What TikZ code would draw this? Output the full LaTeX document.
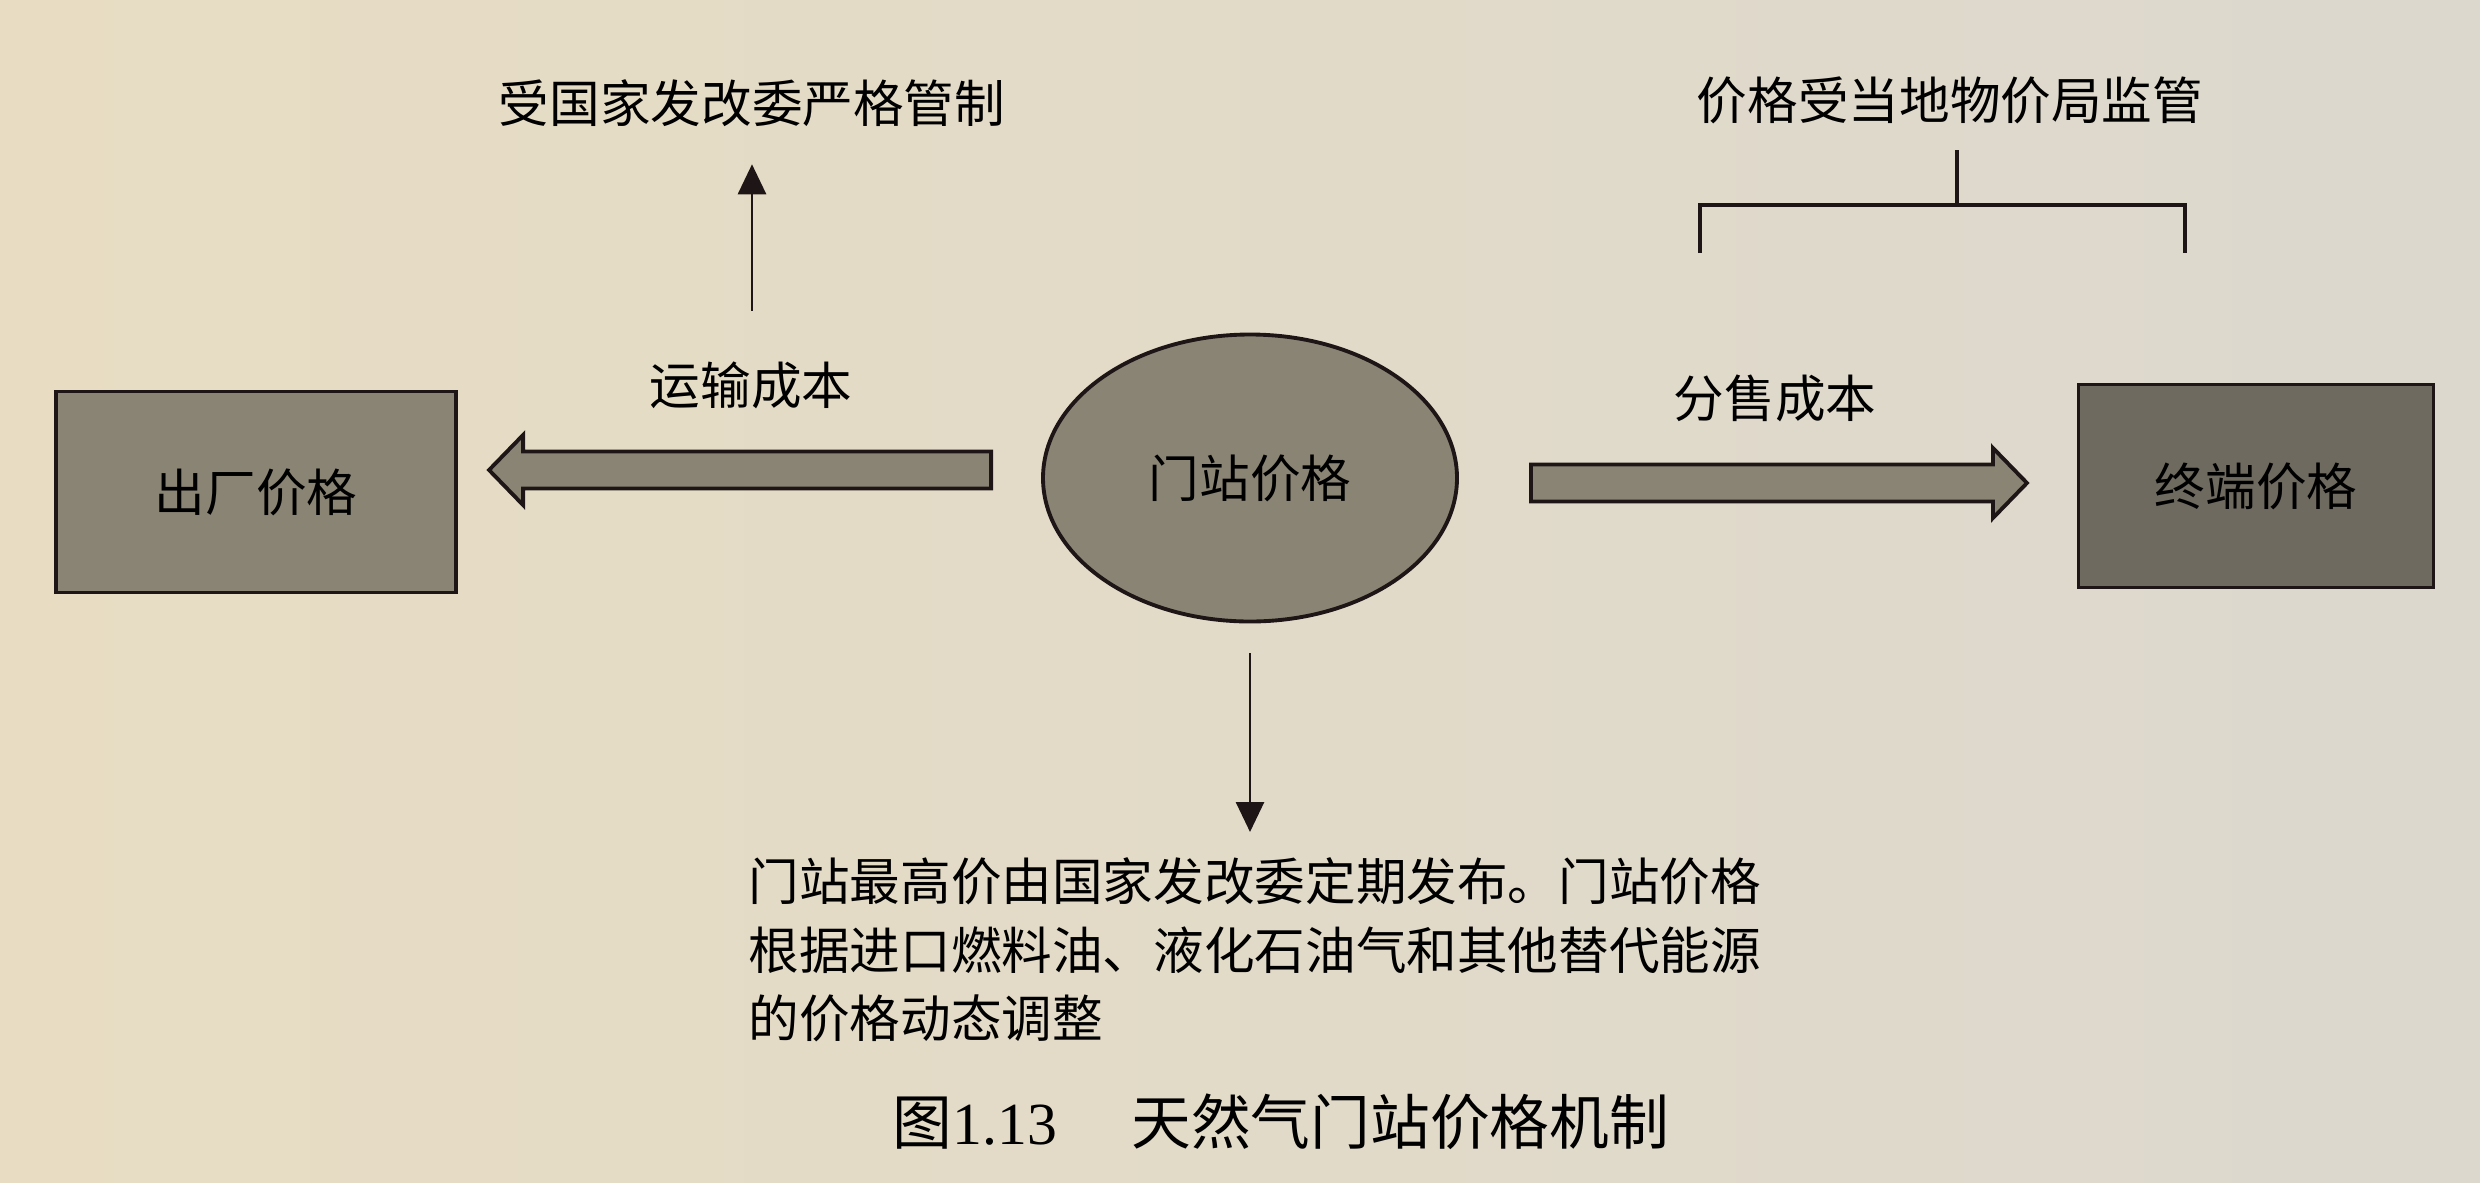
\documentclass[tikz,border=0pt]{standalone}
\usepackage{fontspec}
\setmainfont{Liberation Serif}
\newfontfamily\cjk{Noto Sans CJK SC}
\usetikzlibrary{
   arrows.meta,
   positioning,
   shapes.geometric
}

\definecolor{paperL}{RGB}{232,221,195}
\definecolor{paperR}{RGB}{220,216,206}
\definecolor{boxgray}{RGB}{138,132,116}
\definecolor{boxdark}{RGB}{110,106,96}
\definecolor{ink}{RGB}{30,22,22}

\begin{document}
\begin{tikzpicture}[
    font=\cjk\fontsize{14.4}{19.5}\selectfont,
    box/.style={rectangle, draw=ink, line width=1.1pt, inner sep=0pt},
    fatarrow/.style={draw=ink, line width=1.1pt, fill=boxgray, line join=miter},
    txt/.style={inner sep=0pt},
    arrow/.style={-{Triangle[width=2.8mm, length=3mm]}, line width=0.8pt, draw=ink},
    bracket/.style={line width=0.9pt, draw=ink}
]

\fill[left color=paperL, right color=paperR] (0,0) rectangle (24.8,11.82);
\useasboundingbox (0,0) rectangle (24.8,11.82);

\node[box, fill=boxgray, minimum width=4.00cm, minimum height=2.01cm] (factory) at (2.56,6.90) {出厂价格};
\node[ellipse, draw=ink, line width=1.1pt, fill=boxgray, minimum width=4.14cm, minimum height=2.87cm, inner sep=0pt] (gate) at (12.50,7.04) {门站价格};
\node[box, fill=boxdark, minimum width=3.55cm, minimum height=2.03cm] (terminal) at (22.56,6.96) {终端价格};

\node[txt] (trans) at (7.51,7.97) {运输成本};
\node[txt] (dist) at (17.75,7.84) {分售成本};
\node[txt] (ctrl) at (7.52,10.79) {受国家发改委严格管制};
\node[txt] (reg) at (19.50,10.82) {价格受当地物价局监管};

\node[txt, align=left, anchor=north west] (note) at (7.48,3.25) {门站最高价由国家发改委定期发布。门站价格\\根据进口燃料油、液化石油气和其他替代能源\\的价格动态调整};

\node[txt, font=\cjk\fontsize{17}{20}\selectfont] (caption) at (12.81,0.60) {图{\rmfamily 1.13}\hspace{1.24em}天然气门站价格机制};

% fat arrows between the prices
\coordinate (transtail) at ([xshift=-5mm]gate.west |- 0,7.12);
\coordinate (disttail) at ([xshift=7.2mm]gate.east |- 0,6.99);
\draw[fatarrow] (transtail) ++(0,0.185) -- ++(-4.68,0) -- ++(0,0.165) -- ++(-0.34,-0.35)
    -- ++(0.34,-0.35) -- ++(0,0.165) -- ++(4.68,0) -- cycle;
\draw[fatarrow] (disttail) ++(0,0.185) -- ++(4.62,0) -- ++(0,0.165) -- ++(0.34,-0.35)
    -- ++(-0.34,-0.35) -- ++(0,0.165) -- ++(-4.62,0) -- cycle;

% arrows to the texts
\draw[arrow, shorten <=5mm, shorten >=3.7mm] (trans.north -| ctrl.south) -- (ctrl.south);
\draw[arrow, shorten <=3mm, shorten >=2.5mm] (gate.south) -- (gate.south |- note.north);

% bracket over the terminal price
\coordinate (bl) at (17.00,9.29);
\coordinate (br) at (21.85,9.29);
\coordinate (bm) at (19.57,9.77);
\draw[bracket] (bl) |- (bm) -| (br);
\draw[bracket, shorten >=2.6mm] (bm) -- (bm |- reg.south);

\end{tikzpicture}
\end{document}
